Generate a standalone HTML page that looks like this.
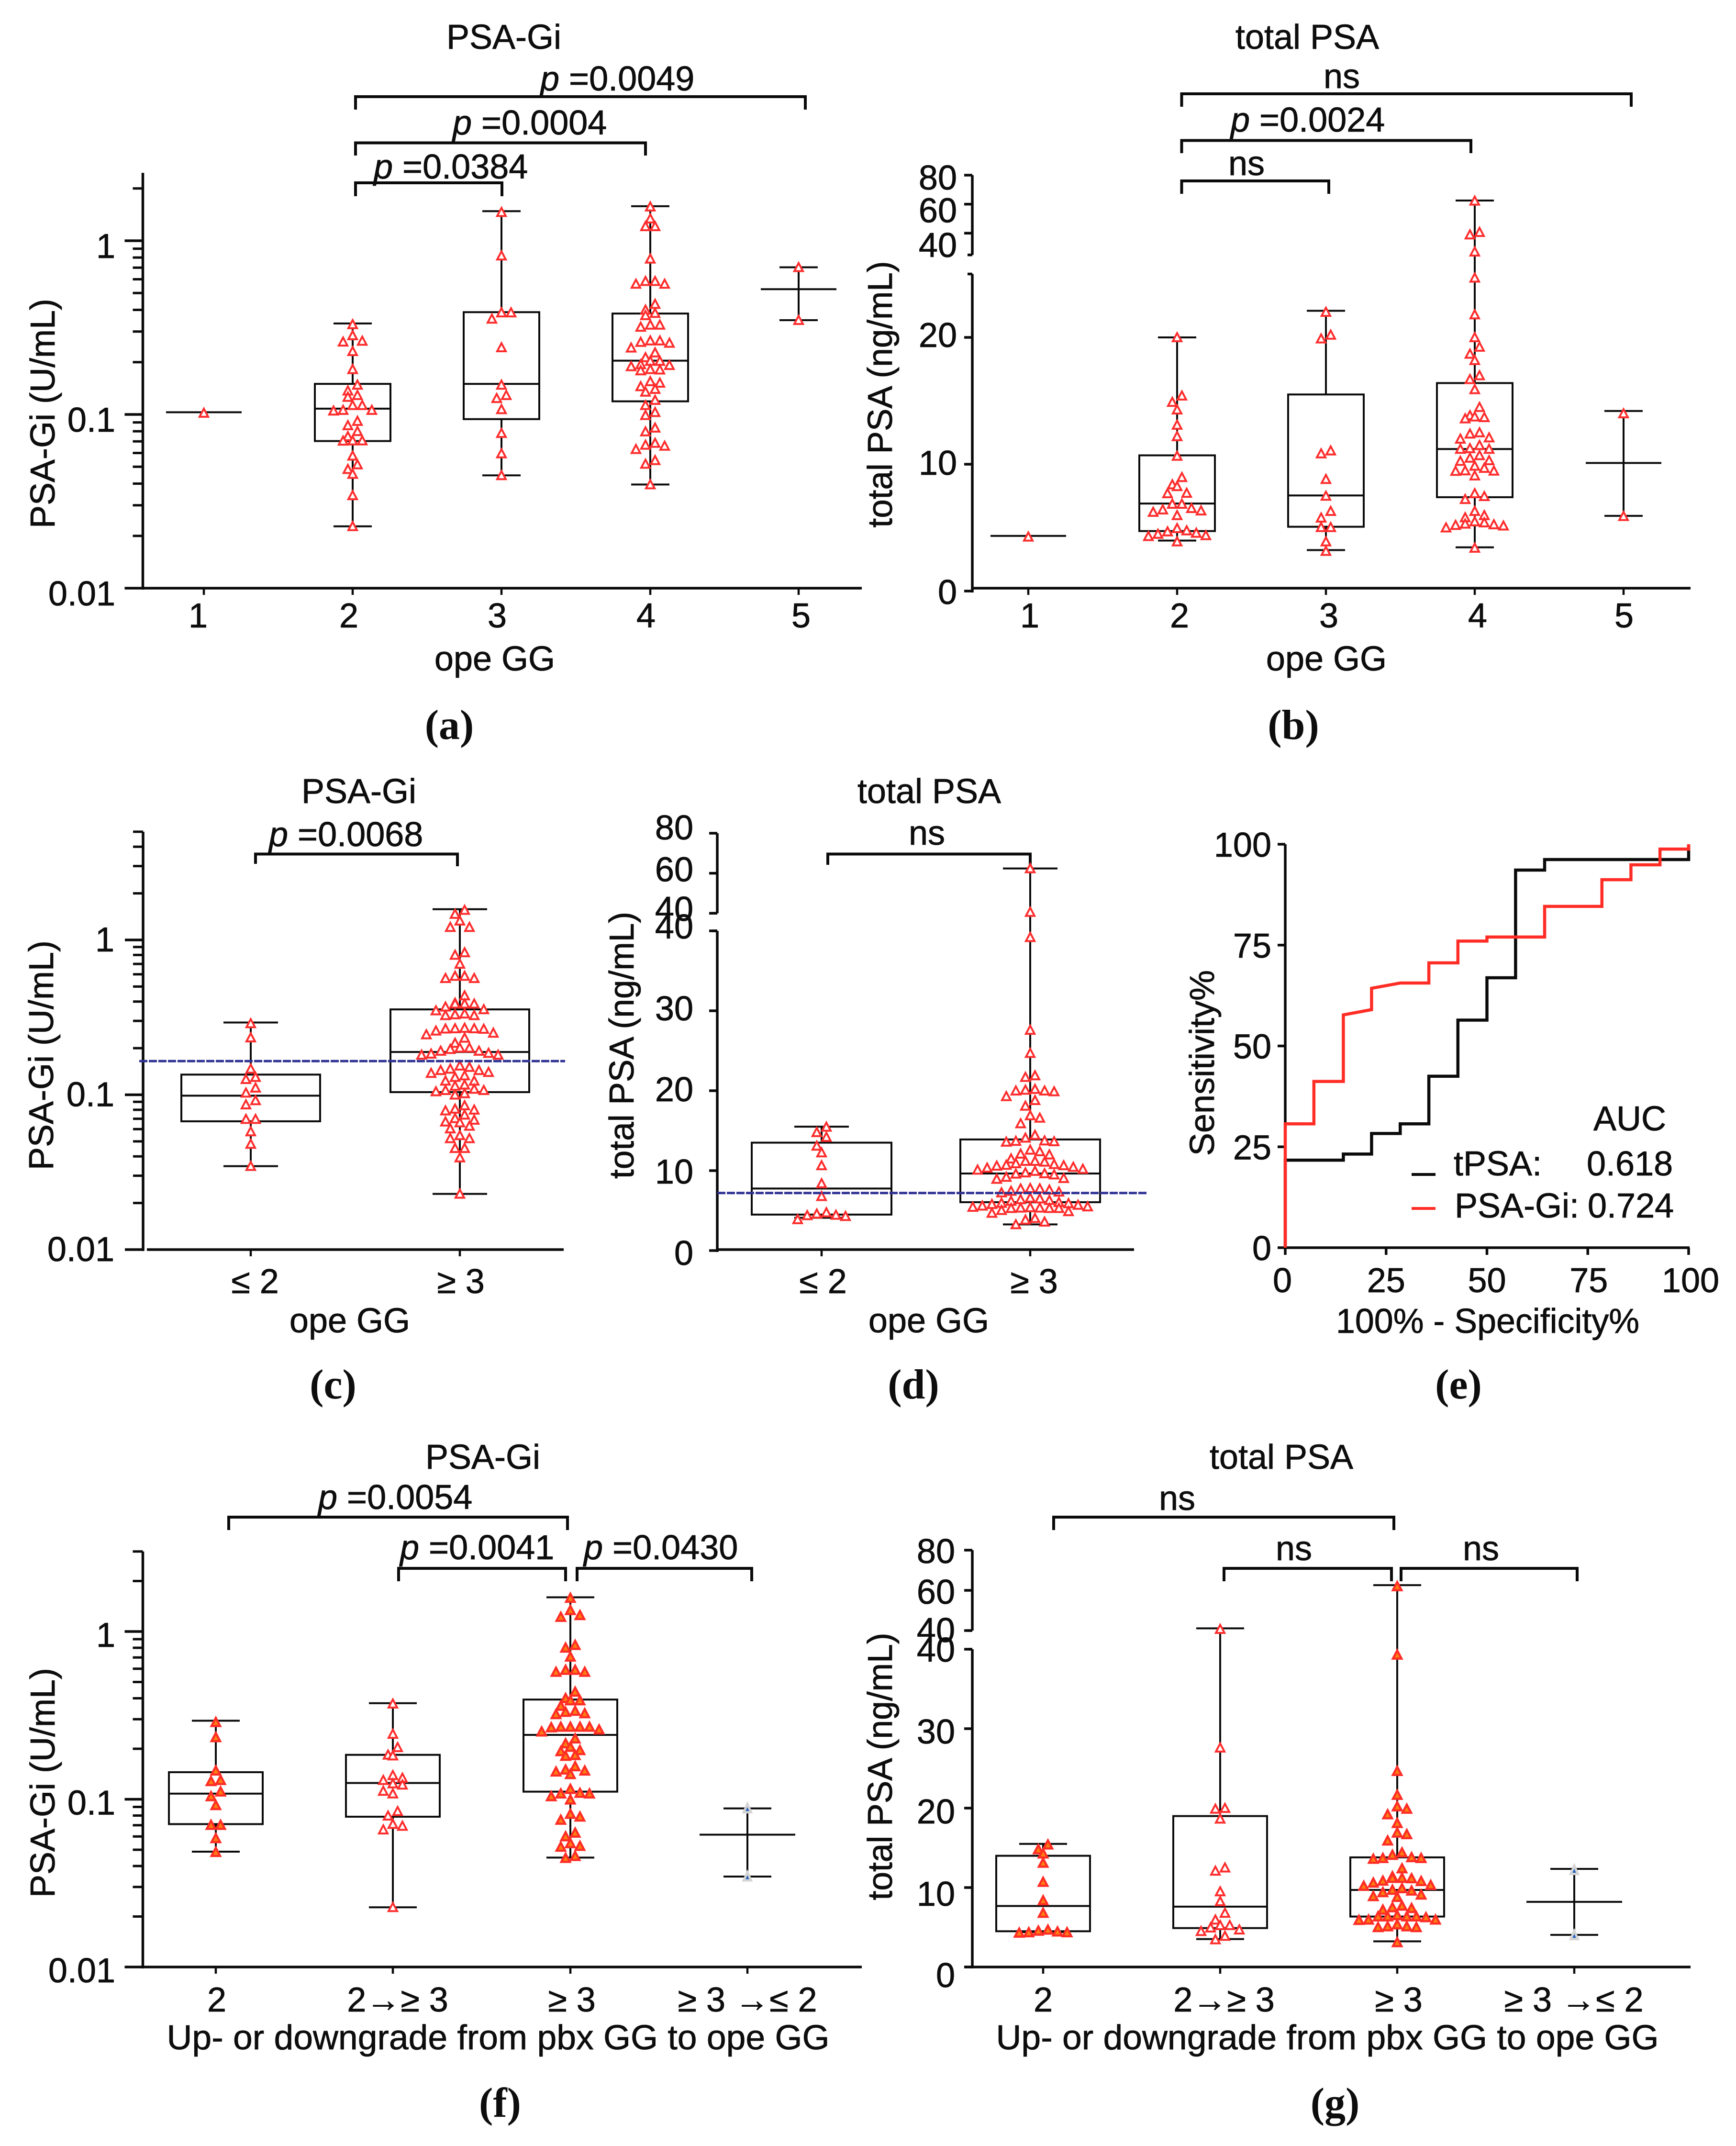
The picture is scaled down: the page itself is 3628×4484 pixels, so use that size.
<!DOCTYPE html>
<html lang="en">
<head>
<meta charset="utf-8">
<title>PSA-Gi and total PSA figure</title>
<style>
html,body{margin:0;padding:0;background:#fff;}
svg{display:block;}
text{font-family:"Liberation Sans",sans-serif;font-size:72px;fill:#0d0d0d;stroke:#0d0d0d;stroke-width:.8px;}
.m{text-anchor:middle;}
.pl{font-family:"Liberation Serif",serif;font-weight:bold;font-size:88px;text-anchor:middle;stroke:none;}
.br{fill:none;stroke:#0a0a0a;stroke-width:6;}
</style>
</head>
<body>
<svg id="figure" xmlns="http://www.w3.org/2000/svg" width="3628" height="4484" viewBox="0 0 3628 4484">
<rect x="0" y="0" width="3628" height="4484" fill="#fff"/>

<g id="panelA">
<text class="m" x="1053" y="102">PSA-Gi</text>
<text class="m" transform="translate(114,864) rotate(-90)">PSA-Gi (U/mL)</text>
<text class="m" x="1034" y="1401">ope GG</text>
<text class="pl" x="939" y="1544">(a)</text>
<path class="br" d="M743 229V202H1683V229"/>
<path class="br" d="M743 325V298.500H1349V325"/>
<path class="br" d="M743 410V382H1049V410"/>
<text x="1129" y="189"><tspan font-style="italic">p</tspan> =0.0049</text>
<text x="946" y="281"><tspan font-style="italic">p</tspan> =0.0004</text>
<text x="781" y="373"><tspan font-style="italic">p</tspan> =0.0384</text>
</g>

<g id="panelB">
<text class="m" x="2732" y="102">total PSA</text>
<text class="m" transform="translate(1864,824) rotate(-90)" textLength="557" lengthAdjust="spacingAndGlyphs">total PSA (ng/mL)</text>
<text class="m" x="2772" y="1401">ope GG</text>
<text class="pl" x="2703" y="1544">(b)</text>
<path class="br" d="M2469.500 223V196H3409V223"/>
<path class="br" d="M2469.500 320V293.500H3074V320"/>
<path class="br" d="M2469.500 405V378H2777V405"/>
<text class="m" x="2804" y="184">ns</text>
<text x="2572" y="275"><tspan font-style="italic">p</tspan> =0.0024</text>
<text class="m" x="2605" y="366">ns</text>
</g>

<g id="panelC">
<text class="m" x="750" y="1678">PSA-Gi</text>
<text class="m" transform="translate(111,2205) rotate(-90)">PSA-Gi (U/mL)</text>
<text class="m" x="731" y="2784">ope GG</text>
<text class="pl" x="696" y="2922">(c)</text>
<path class="br" d="M534 1805V1784.500H956V1810"/>
<text x="562" y="1768"><tspan font-style="italic">p</tspan> =0.0068</text>
</g>

<g id="panelD">
<text class="m" x="1942" y="1678">total PSA</text>
<text class="m" transform="translate(1324,2184) rotate(-90)" textLength="558" lengthAdjust="spacingAndGlyphs">total PSA (ng/mL)</text>
<text class="m" x="1941" y="2784">ope GG</text>
<text class="pl" x="1909" y="2922">(d)</text>
<path class="br" d="M1730 1807V1784.500H2153V1810"/>
<text class="m" x="1937" y="1765">ns</text>
</g>

<g id="panelE">
<text class="m" transform="translate(2537,2221) rotate(-90)">Sensitivity%</text>
<text class="m" x="3109" y="2785" textLength="634" lengthAdjust="spacingAndGlyphs">100% - Specificity%</text>
<text class="pl" x="3048" y="2922">(e)</text>
<text class="m" x="3406" y="2362">AUC</text>
<line x1="2950" y1="2454" x2="3000" y2="2454" stroke="#0a0a0a" stroke-width="6"/>
<text x="3038" y="2456">tPSA:</text>
<text x="3316" y="2456">0.618</text>
<line x1="2950" y1="2525" x2="3000" y2="2525" stroke="#ff2d26" stroke-width="6"/>
<text x="3040" y="2544">PSA-Gi:</text>
<text x="3318" y="2544">0.724</text>
</g>

<g id="panelF">
<text class="m" x="1009" y="3069">PSA-Gi</text>
<text class="m" transform="translate(114,3725) rotate(-90)">PSA-Gi (U/mL)</text>
<text class="m" x="1041" y="4282" textLength="1385" lengthAdjust="spacingAndGlyphs">Up- or downgrade from pbx GG to ope GG</text>
<text class="pl" x="1045" y="4423">(f)</text>
<path class="br" d="M478 3197V3170H1186V3197"/>
<path class="br" d="M833 3304V3277H1182V3304"/>
<path class="br" d="M1206 3304V3277H1571V3304"/>
<text x="665" y="3153"><tspan font-style="italic">p</tspan> =0.0054</text>
<text x="836" y="3258"><tspan font-style="italic">p</tspan> =0.0041</text>
<text x="1220" y="3258"><tspan font-style="italic">p</tspan> =0.0430</text>
</g>

<g id="panelG">
<text class="m" x="2678" y="3069">total PSA</text>
<text class="m" transform="translate(1864,3691) rotate(-90)" textLength="559" lengthAdjust="spacingAndGlyphs">total PSA (ng/mL)</text>
<text class="m" x="2774" y="4282" textLength="1385" lengthAdjust="spacingAndGlyphs">Up- or downgrade from pbx GG to ope GG</text>
<text class="pl" x="2790" y="4423">(g)</text>
<path class="br" d="M2202 3197V3170H2913V3197"/>
<path class="br" d="M2558 3304V3277H2908V3304"/>
<path class="br" d="M2928 3304V3277H3296V3304"/>
<text class="m" x="2460" y="3155">ns</text>
<text class="m" x="2704" y="3260">ns</text>
<text class="m" x="3095" y="3260">ns</text>
</g>
</svg>

<script>
/* ---------- tick labels and categories ---------- */
const logMajorTicks = [0.01, 0.1, 1];
const logMajorLabels = ['0.01', '0.1', '1'];
const logMinorTicks = [0.02,0.03,0.04,0.05,0.06,0.07,0.08,0.09,0.2,0.3,0.4,0.5,0.6,0.7,0.8,0.9,2,3,4,5];
const bLowTicks = [0, 10, 20];
const dLowTicks = [0, 10, 20, 30, 40];
const upperTicks = [40, 60, 80];
const rocTicks = [0, 25, 50, 75, 100];
const gradeCategories = ['1', '2', '3', '4', '5'];
const binaryCategories = ['\u2264 2', '\u2265 3'];
const changeCategories = ['2', '2\u2192\u2265 3', '\u2265 3', '\u2265 3 \u2192\u2264 2'];

/* ---------- panel a: PSA-Gi by grade. stats = [low, q1, median, q3, high] ---------- */
const aG1Stats = [null, null, 0.103, null, null];
const aG1Points = [0.102];
const aG2Stats = [0.0227, 0.0703, 0.108, 0.150, 0.334];
const aG2Points = [0.330,0.285,0.265,0.262,0.231,0.182,0.148,0.137,0.129,0.126,0.113,0.113,0.106,0.106,0.105,0.0916,0.0865,0.080,0.0748,0.0707,0.0707,0.0705,0.0578,0.0515,0.0484,0.0454,0.0342,0.0227];
const aG3Stats = [0.0446, 0.094, 0.150, 0.388, 1.48];
const aG3Points = [1.46,0.82,0.386,0.386,0.355,0.243,0.148,0.129,0.124,0.107,0.078,0.0596,0.0446];
const aG4Stats = [0.0395, 0.119, 0.204, 0.381, 1.58];
const aG4Points = [1.57,1.34,1.21,1.21,0.787,0.585,0.585,0.564,0.564,0.432,0.40,0.383,0.372,0.328,0.328,0.319,0.266,0.266,0.261,0.258,0.242,0.227,0.213,0.203,0.203,0.194,0.192,0.189,0.182,0.181,0.179,0.155,0.152,0.145,0.140,0.135,0.121,0.113,0.103,0.099,0.0838,0.0797,0.0685,0.0668,0.0659,0.0631,0.0545,0.0519,0.0395];
const aG5Stats = [0.349, null, 0.526, null, 0.703];
const aG5Points = [0.703, 0.349];

/* ---------- panel b: total PSA by grade ---------- */
const bG1Stats = [null, null, 4.35, null, null];
const bG1Points = [4.28];
const bG2Stats = [3.98, 4.73, 6.9, 10.7, 20.0];
const bG2Points = [20.0,15.4,14.9,14.3,13.1,12.2,10.65,8.97,8.4,8.26,7.73,7.7,6.87,6.87,6.53,6.42,6.34,6.23,5.97,4.95,4.77,4.69,4.58,4.5,4.39,4.32,3.9];
const bG3Stats = [3.23, 5.07, 7.54, 15.5, 22.1];
const bG3Points = [22.0,20.2,19.9,11.07,10.84,8.82,7.5,6.3,5.78,5.03,5.03,3.9,3.15];
const bG4Stats = [3.45, 7.4, 11.2, 16.4, 62.5];
const bG4Points = [62.3,40.7,39.0,27.2,24.7,21.8,20,19.25,18.7,18.2,17,16.7,15.9,14.5,13.85,13.75,13.7,13.6,12.5,12.4,12.1,12.0,11.5,11.25,11.2,11.2,10.7,10.5,10.3,10.25,9.87,9.7,9.5,9.48,9.46,9.1,7.7,7.47,7.24,6.3,5.97,5.8,5.48,5.4,5.3,5.25,5.2,5.15,5.0,3.4];
const bG5Stats = [5.93, null, 10.1, null, 14.2];
const bG5Points = [14.0, 5.9];

/* ---------- panel c: PSA-Gi, grade <=2 vs >=3 ---------- */
const cLowStats = [0.0346, 0.0674, 0.0987, 0.135, 0.293];
const cLowPoints = [0.289,0.234,0.147,0.130,0.126,0.111,0.103,0.092,0.0864,0.0696,0.0696,0.0579,0.0481,0.0346];
const cHighStats = [0.0229, 0.104, 0.189, 0.356, 1.58];
const cHighPoints = [1.56,1.47,1.33,1.21,1.21,0.83,0.80,0.70,0.585,0.585,0.566,0.566,0.437,0.392,0.387,0.387,0.387,0.370,0.356,0.350,0.334,0.330,0.326,0.326,0.270,0.268,0.268,0.267,0.266,0.259,0.251,0.245,0.233,0.216,0.201,0.201,0.197,0.192,0.192,0.186,0.184,0.181,0.181,0.154,0.151,0.147,0.144,0.144,0.140,0.138,0.133,0.130,0.123,0.123,0.116,0.114,0.109,0.107,0.107,0.105,0.102,0.100,0.0853,0.0811,0.0800,0.0790,0.0742,0.0705,0.0688,0.0670,0.0662,0.0629,0.0605,0.0547,0.0523,0.0523,0.0452,0.0452,0.0393,0.0229];
const cCutoff = 0.165;

/* ---------- panel d: total PSA, grade <=2 vs >=3 ---------- */
const dLowStats = [4.1, 4.5, 7.76, 13.5, 15.5];
const dLowPoints = [15.47,14.8,14.2,13.1,12.26,10.65,8.4,6.8,4.76,4.6,4.45,4.4,4.3,3.9];
const dHighStats = [3.27, 6.05, 9.64, 13.9, 62.4];
const dHighPoints = [62.4,40.6,39.2,27.6,24.7,21.9,21.7,20.2,20.1,20.0,20.0,19.9,19.3,18.8,18.1,16.9,16.6,15.9,14.45,14.1,13.75,13.7,13.65,13.6,12.6,12.4,12.1,12.0,11.5,11.2,11.2,11.1,10.9,10.8,10.7,10.65,10.6,10.45,10.35,10.2,10.1,9.95,9.75,9.65,9.6,9.5,9.2,9.05,8.95,7.8,7.76,7.74,7.6,7.45,7.35,7.25,6.6,6.5,6.4,6.3,6.2,6.05,5.95,5.9,5.8,5.7,5.6,5.5,5.45,5.4,5.35,5.35,5.3,5.3,5.3,5.05,4.9,4.7,4.05,3.85,3.6,3.27];
const dCutoff = 7.2;

/* ---------- panel e: ROC curves ---------- */
const rocTpsaX = [0,0,14.4,14.4,21.4,21.4,28.5,28.5,35.6,35.6,42.8,42.8,50,50,57.1,57.1,64.3,64.3,100,100];
const rocTpsaY = [0,21.7,21.7,23.2,23.2,28.3,28.3,30.7,30.7,42.5,42.5,56.4,56.4,66.9,66.9,93.6,93.6,96.2,96.2,100];
const rocGiX = [0,0,7.1,7.1,14.4,14.4,21.4,21.4,28.5,35.6,35.6,42.8,42.8,50,50,64.3,64.3,78.5,78.5,85.7,85.7,92.9,92.9,100,100];
const rocGiY = [0,30.7,30.7,41.2,41.2,57.7,59,64.3,65.6,65.6,70.6,70.6,76,76,77,77,84.6,84.6,91.2,91.2,94.9,94.9,98.8,98.8,100];

/* ---------- panel f: PSA-Gi by up/downgrade ---------- */
const fStableLowStats = [0.0487, 0.0711, 0.108, 0.145, 0.294];
const fStableLowPoints = [0.288,0.234,0.148,0.130,0.128,0.111,0.104,0.0921,0.0702,0.0702,0.0585,0.0484];
const fUpStats = [0.0227, 0.0787, 0.125, 0.184, 0.374];
const fUpPoints = [0.371,0.245,0.204,0.184,0.182,0.139,0.134,0.130,0.124,0.122,0.112,0.108,0.0848,0.0797,0.0711,0.0693,0.0659,0.0227];
const fStableHighStats = [0.0449, 0.111, 0.242, 0.393, 1.60];
const fStableHighPoints = [1.585,1.34,1.25,1.22,0.83,0.80,0.707,0.59,0.59,0.574,0.574,0.437,0.40,0.388,0.388,0.36,0.336,0.331,0.325,0.321,0.27,0.27,0.27,0.27,0.268,0.26,0.253,0.23,0.215,0.205,0.196,0.193,0.183,0.181,0.157,0.150,0.148,0.146,0.141,0.115,0.109,0.108,0.108,0.104,0.0994,0.0817,0.0787,0.0753,0.0631,0.0600,0.0546,0.0526,0.052,0.0458,0.0446];
const fDownStats = [0.0346, null, 0.0615, null, 0.0882];
const fDownPoints = [0.0882, 0.0346];

/* ---------- panel g: total PSA by up/downgrade ---------- */
const gStableLowStats = [4.4, 4.5, 7.68, 14.0, 15.5];
const gStableLowPoints = [15.4,14.8,14.26,13.1,10.7,8.37,6.8,4.68,4.55,4.45,4.35,4.35,4.3];
const gUpStats = [3.52, 4.9, 7.6, 19.0, 41.1];
const gUpPoints = [40.7,27.6,20,19.9,18.65,12.5,12.1,9.5,8.26,6.8,5.95,5.25,5.25,4.95,4.7,4.5,3.9,3.46];
const gStableHighStats = [3.23, 6.35, 9.7, 13.8, 62.6];
const gStableHighPoints = [62,39.3,24.65,21.65,20.2,19.9,19.2,18.1,16.9,16.7,15.9,14.4,14.1,13.8,13.7,13.7,13.6,12.4,11.4,11.2,11.2,11.15,10.85,10.8,10.6,10.3,10.2,9.9,9.7,9.6,9.4,9.1,8.9,8.8,7.7,7.5,7.4,7.2,6.5,6.35,6.35,6.35,6.35,6.25,5.95,5.95,5.9,5.35,5.1,5.0,5.1,5.0,3.1];
const gDownStats = [4.04, null, 8.2, null, 12.35];
const gDownPoints = [12.2, 4.0];

/* ---------- drawing helpers ---------- */
const NS = 'http://www.w3.org/2000/svg';
const INK = '#0a0a0a';

function addLine(parent, x1, y1, x2, y2, width, color, name) {
  const el = document.createElementNS(NS, 'line');
  el.setAttribute('x1', x1);
  el.setAttribute('y1', y1);
  el.setAttribute('x2', x2);
  el.setAttribute('y2', y2);
  el.setAttribute('stroke', color);
  el.setAttribute('stroke-width', width);
  
  
  parent.appendChild(el);
  return el;
}

function addText(parent, x, y, str, anchor, name) {
  const el = document.createElementNS(NS, 'text');
  el.setAttribute('x', x);
  el.setAttribute('y', y);
  el.setAttribute('text-anchor', anchor);
  el.textContent = str;
  
  
  parent.appendChild(el);
  return el;
}

function logScale(yAtPointZeroOne, pxPerDecade) {
  return function (v) { return yAtPointZeroOne - (Math.log10(v) + 2) * pxPerDecade; };
}

function brokenScale(yZero, pxLow, breakValue, yEighty, pxHigh) {
  const lower = function (v) { return yZero - v * pxLow; };
  const upper = function (v) { return yEighty + (80 - v) * pxHigh; };
  const f = function (v) { return v <= breakValue ? lower(v) : upper(v); };
  f.lower = lower;
  f.upper = upper;
  return f;
}

function swarmOffsets(ys, binH, step) {
  const order = ys.map(function (y, i) { return i; }).sort(function (a, b) { return ys[a] - ys[b]; });
  const offsets = new Array(ys.length).fill(0);
  let bin = [];
  function flush() {
    const n = bin.length;
    const slots = [];
    for (let k = 0; k < n; k++) { slots.push((k - (n - 1) / 2) * step); }
    slots.sort(function (a, b) { return Math.abs(a) - Math.abs(b) || b - a; });
    bin.forEach(function (idx, k) { offsets[idx] = slots[k]; });
    bin = [];
  }
  order.forEach(function (idx) {
    if (bin.length && ys[idx] - ys[bin[0]] > binH) { flush(); }
    bin.push(idx);
  });
  if (bin.length) { flush(); }
  return offsets;
}

const TRIANGLE_STYLES = {
  hollow: { fill: '#ffffff', stroke: '#ff2d2d', sw: 4 },
  filled: { fill: '#ff7f0e', stroke: '#ff2d26', sw: 4.5 },
  blue:   { fill: '#1f5fbf', stroke: '#d4d4d4', sw: 5 }
};

function addTriangle(parent, x, y, styleKey, name) {
  const s = TRIANGLE_STYLES[styleKey];
  const el = document.createElementNS(NS, 'polygon');
  const hw = styleKey === 'blue' ? 7.5 : 9;
  el.setAttribute('points', (x) + ',' + (y - 9) + ' ' + (x + hw) + ',' + (y + 8) + ' ' + (x - hw) + ',' + (y + 8));
  el.setAttribute('fill', s.fill);
  el.setAttribute('stroke', s.stroke);
  el.setAttribute('stroke-width', s.sw);
  el.setAttribute('stroke-linejoin', 'miter');
  
  
  parent.appendChild(el);
  return el;
}

function drawGroup(parent, cx, scale, stats, points, geom, styleKey, name) {
  const g = document.createElementNS(NS, 'g');
  
  
  parent.appendChild(g);
  const lo = stats[0], q1 = stats[1], med = stats[2], q3 = stats[3], hi = stats[4];
  const hasBox = q1 !== null && q3 !== null;
  if (lo !== null && hi !== null) {
    if (hasBox) {
      addLine(g, cx, scale(hi), cx, scale(q3), 4, INK, name + '-upper-whisker');
      addLine(g, cx, scale(q1), cx, scale(lo), 4, INK, name + '-lower-whisker');
    } else {
      addLine(g, cx, scale(hi), cx, scale(lo), 4, INK, name + '-whisker');
    }
    addLine(g, cx - geom.cap, scale(hi), cx + geom.cap, scale(hi), 4, INK, name + '-upper-cap');
    addLine(g, cx - geom.cap, scale(lo), cx + geom.cap, scale(lo), 4, INK, name + '-lower-cap');
  }
  if (hasBox) {
    const box = document.createElementNS(NS, 'rect');
    box.setAttribute('x', cx - geom.box);
    box.setAttribute('y', scale(q3));
    box.setAttribute('width', geom.box * 2);
    box.setAttribute('height', scale(q1) - scale(q3));
    box.setAttribute('fill', 'none');
    box.setAttribute('stroke', INK);
    box.setAttribute('stroke-width', 4);
    
    
    g.appendChild(box);
  }
  addLine(g, cx - geom.box, scale(med), cx + geom.box, scale(med), 4, INK, name + '-median');
  const ys = points.map(scale);
  const off = swarmOffsets(ys, geom.bin || 15, 20);
  ys.forEach(function (y, i) {
    addTriangle(g, cx + off[i], y, styleKey, name + '-point');
  });
}

function drawLogAxis(parent, cfg) {
  addLine(parent, cfg.x, cfg.scale(0.01) + 3, cfg.x, cfg.scale(cfg.top), 5.5, INK, 'y-axis-line');
  logMinorTicks.forEach(function (v) {
    if (v <= cfg.top) { addLine(parent, cfg.x - 21, cfg.scale(v), cfg.x, cfg.scale(v), 5, INK, 'y-minor-tick'); }
  });
  logMajorTicks.forEach(function (v, i) {
    addLine(parent, cfg.x - 38, cfg.scale(v), cfg.x, cfg.scale(v), 5.5, INK, 'y-major-tick');
    addText(parent, cfg.labelRight, cfg.scale(v) + cfg.labelDy, logMajorLabels[i], 'end', 'y-tick-label');
  });
}

function drawBrokenAxis(parent, cfg) {
  const s = cfg.scale;
  addLine(parent, cfg.x, cfg.axisY + 3, cfg.x, s.lower(cfg.breakValue), 5.5, INK, 'y-axis-lower-segment');
  addLine(parent, cfg.x, s.upper(cfg.breakValue), cfg.x, s.upper(80), 5.5, INK, 'y-axis-upper-segment');
  addLine(parent, cfg.x - 10, s.lower(cfg.breakValue), cfg.x, s.lower(cfg.breakValue), 5.5, INK, 'y-axis-break-tick');
  addLine(parent, cfg.x - 10, s.upper(cfg.breakValue), cfg.x, s.upper(cfg.breakValue), 5.5, INK, 'y-axis-break-tick');
  cfg.lowTicks.forEach(function (v, i) {
    addLine(parent, cfg.x - 17, s.lower(v), cfg.x, s.lower(v), 5.5, INK, 'y-major-tick');
    addText(parent, cfg.labelRight, s.lower(v) + cfg.lowDy[i], String(v), 'end', 'y-tick-label');
  });
  upperTicks.forEach(function (v, i) {
    addLine(parent, cfg.x - 17, s.upper(v), cfg.x, s.upper(v), 5.5, INK, 'y-major-tick');
    addText(parent, cfg.labelRight, s.upper(v) + cfg.upDy[i], String(v), 'end', 'y-tick-label');
  });
}

function drawCategoryAxis(parent, cfg) {
  addLine(parent, cfg.x0, cfg.y, cfg.x1, cfg.y, 5.5, INK, 'x-axis-line');
  cfg.centers.forEach(function (cx, i) {
    addLine(parent, cx, cfg.y, cx, cfg.y + 14, 4.5, INK, 'x-tick');
    addText(parent, cx + cfg.labelDx[i], cfg.labelY, cfg.categories[i], 'middle', 'x-tick-label');
  });
}

function drawCutoff(parent, x1, x2, y, name) {
  const el = addLine(parent, x1, y, x2, y, 5, '#2e3192', name);
  el.setAttribute('stroke-dasharray', '17 3');
}

/* ---------- panel a ---------- */
(function () {
  const p = document.getElementById('panelA');
  const y = logScale(1229, 363);
  const xc = [426, 737, 1048, 1359, 1669];
  const geom = { box: 79, cap: 40, bin: 16 };
  drawLogAxis(p, { x: 298.5, scale: y, top: 2.46, labelRight: 241, labelDy: 36 });
  drawCategoryAxis(p, { x0: 296, x1: 1801, y: 1229, centers: xc, categories: gradeCategories, labelDx: [-12, -8, -9, -9, 5], labelY: 1311 });
  drawGroup(p, xc[0], y, aG1Stats, aG1Points, geom, 'hollow', 'a-grade-1');
  drawGroup(p, xc[1], y, aG2Stats, aG2Points, geom, 'hollow', 'a-grade-2');
  drawGroup(p, xc[2], y, aG3Stats, aG3Points, geom, 'hollow', 'a-grade-3');
  drawGroup(p, xc[3], y, aG4Stats, aG4Points, geom, 'hollow', 'a-grade-4');
  drawGroup(p, xc[4], y, aG5Stats, aG5Points, geom, 'hollow', 'a-grade-5');
})();

/* ---------- panel b ---------- */
(function () {
  const p = document.getElementById('panelB');
  const y = brokenScale(1235, 26.5, 25, 366, 3.03);
  const xc = [2149, 2460, 2771, 3082, 3393];
  const geom = { box: 79, cap: 40, bin: 18 };
  drawBrokenAxis(p, { x: 2032, scale: y, axisY: 1235, breakValue: 25, lowTicks: bLowTicks, lowDy: [27, 22, 20], upDy: [50, 38, 30], labelRight: 2000 });
  drawCategoryAxis(p, { x0: 2030, x1: 3533, y: 1229, centers: xc, categories: gradeCategories, labelDx: [3, 5, 6, 6, 1], labelY: 1311 });
  drawGroup(p, xc[0], y, bG1Stats, bG1Points, geom, 'hollow', 'b-grade-1');
  drawGroup(p, xc[1], y, bG2Stats, bG2Points, geom, 'hollow', 'b-grade-2');
  drawGroup(p, xc[2], y, bG3Stats, bG3Points, geom, 'hollow', 'b-grade-3');
  drawGroup(p, xc[3], y, bG4Stats, bG4Points, geom, 'hollow', 'b-grade-4');
  drawGroup(p, xc[4], y, bG5Stats, bG5Points, geom, 'hollow', 'b-grade-5');
})();

/* ---------- panel c ---------- */
(function () {
  const p = document.getElementById('panelC');
  const y = logScale(2611, 323.5);
  const xc = [524, 961];
  const geom = { box: 145, cap: 57, bin: 16 };
  drawLogAxis(p, { x: 299, scale: y, top: 5, labelRight: 239, labelDy: 24 });
  drawCategoryAxis(p, { x0: 307, x1: 1178, y: 2611, centers: xc, categories: binaryCategories, labelDx: [9, 2], labelY: 2702 });
  drawGroup(p, xc[0], y, cLowStats, cLowPoints, geom, 'hollow', 'c-grade-low');
  drawGroup(p, xc[1], y, cHighStats, cHighPoints, geom, 'hollow', 'c-grade-high');
  drawCutoff(p, 291, 1181, y(cCutoff), 'c-cutoff-line');
})();

/* ---------- panel d ---------- */
(function () {
  const p = document.getElementById('panelD');
  const y = brokenScale(2613, 16.7, 40, 1741, 4.18);
  const xc = [1717, 2153];
  const geom = { box: 146, cap: 57, bin: 20 };
  drawBrokenAxis(p, { x: 1499, scale: y, axisY: 2613, breakValue: 40, lowTicks: dLowTicks, lowDy: [30, 27, 22, 20, 16], upDy: [16, 17, 13], labelRight: 1449 });
  drawCategoryAxis(p, { x0: 1497, x1: 2370, y: 2611, centers: xc, categories: binaryCategories, labelDx: [3, 8], labelY: 2702 });
  drawGroup(p, xc[0], y, dLowStats, dLowPoints, geom, 'hollow', 'd-grade-low');
  drawGroup(p, xc[1], y, dHighStats, dHighPoints, geom, 'hollow', 'd-grade-high');
  drawCutoff(p, 1499, 2398, y(dCutoff), 'd-cutoff-line');
})();

/* ---------- panel e ---------- */
(function () {
  const p = document.getElementById('panelE');
  const sx = function (v) { return 2686 + v * 8.43; };
  const sy = function (v) { return 2607 - v * 8.43; };
  const xLabelDx = [-6, 0, 0, 2, 4];
  addLine(p, sx(0), sy(0) + 3, sx(0), sy(100), 5.5, INK, 'y-axis-line');
  addLine(p, sx(0), sy(0), sx(100) + 2, sy(0), 5.5, INK, 'x-axis-line');
  rocTicks.forEach(function (v, i) {
    addLine(p, sx(0) - 16, sy(v), sx(0), sy(v), 5.5, INK, 'y-major-tick');
    addText(p, 2657, sy(v) + 26, String(v), 'end', 'y-tick-label');
    addLine(p, sx(v), sy(0), sx(v), sy(0) + 15, 5.5, INK, 'x-tick');
    addText(p, sx(v) + xLabelDx[i], 2700, String(v), 'middle', 'x-tick-label');
  });
  function curve(xs, ys, color, name) {
    const el = document.createElementNS(NS, 'polyline');
    el.setAttribute('points', xs.map(function (x, i) { return sx(x) + ',' + sy(ys[i]); }).join(' '));
    el.setAttribute('fill', 'none');
    el.setAttribute('stroke', color);
    el.setAttribute('stroke-width', 6.5);
    
    
    p.appendChild(el);
  }
  curve(rocTpsaX, rocTpsaY, INK, 'roc-curve-tpsa');
  curve(rocGiX, rocGiY, '#ff2d26', 'roc-curve-psa-gi');
})();

/* ---------- panel f ---------- */
(function () {
  const p = document.getElementById('panelF');
  const y = logScale(4110, 350.5);
  const xc = [451, 821, 1192, 1562];
  const geom = { box: 98, cap: 50, bin: 16 };
  drawLogAxis(p, { x: 298.5, scale: y, top: 3, labelRight: 241, labelDy: 32 });
  drawCategoryAxis(p, { x0: 293, x1: 1801, y: 4110, centers: xc, categories: changeCategories, labelDx: [2, 10, 3, 0], labelY: 4203 });
  drawGroup(p, xc[0], y, fStableLowStats, fStableLowPoints, geom, 'filled', 'f-stable-2');
  drawGroup(p, xc[1], y, fUpStats, fUpPoints, geom, 'hollow', 'f-upgrade');
  drawGroup(p, xc[2], y, fStableHighStats, fStableHighPoints, geom, 'filled', 'f-stable-3-plus');
  drawGroup(p, xc[3], y, fDownStats, fDownPoints, { box: 100, cap: 50 }, 'blue', 'f-downgrade');
})();

/* ---------- panel g ---------- */
(function () {
  const p = document.getElementById('panelG');
  const y = brokenScale(4110, 16.6, 40, 3239, 4.2);
  const xc = [2180, 2550, 2920, 3290];
  const geom = { box: 98, cap: 50, bin: 18 };
  drawBrokenAxis(p, { x: 2032, scale: y, axisY: 4110, breakValue: 40, lowTicks: dLowTicks, lowDy: [42, 38, 32, 31, 26], upDy: [24, 28, 27], labelRight: 1996 });
  drawCategoryAxis(p, { x0: 2015, x1: 3533, y: 4110, centers: xc, categories: changeCategories, labelDx: [0, 8, 3, -1], labelY: 4203 });
  drawGroup(p, xc[0], y, gStableLowStats, gStableLowPoints, geom, 'filled', 'g-stable-2');
  drawGroup(p, xc[1], y, gUpStats, gUpPoints, geom, 'hollow', 'g-upgrade');
  drawGroup(p, xc[2], y, gStableHighStats, gStableHighPoints, geom, 'filled', 'g-stable-3-plus');
  drawGroup(p, xc[3], y, gDownStats, gDownPoints, { box: 100, cap: 50 }, 'blue', 'g-downgrade');
})();
</script>
</body>
</html>
